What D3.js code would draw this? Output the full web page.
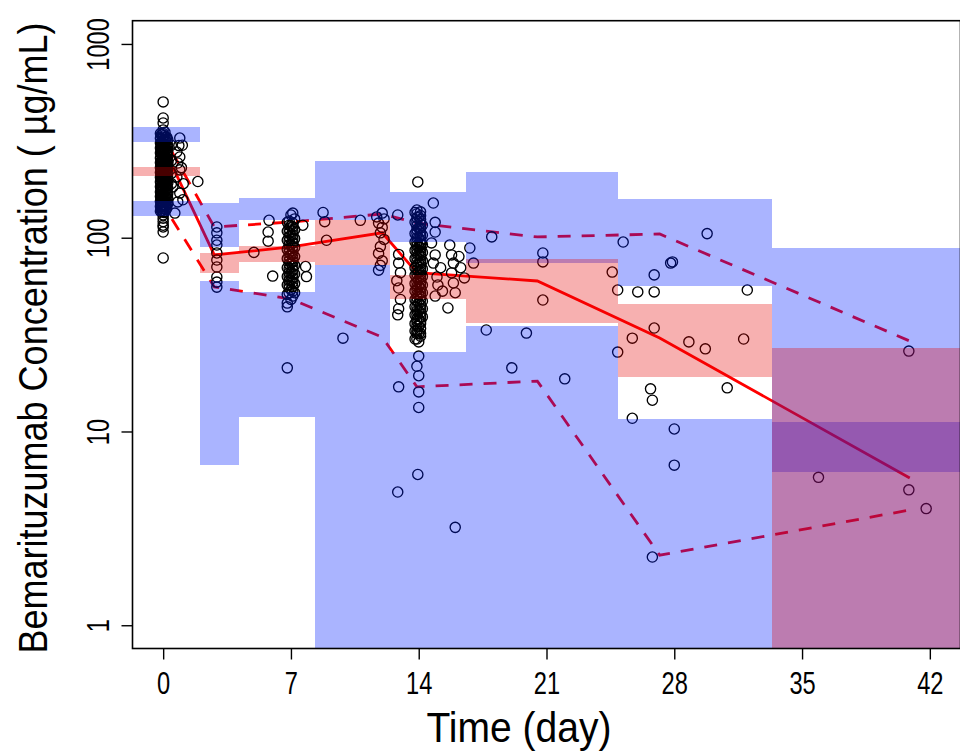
<!DOCTYPE html>
<html>
<head>
<meta charset="utf-8">
<script src="https://cdn.jsdelivr.net/npm/d3@7"></script>
<style>
  body { margin: 0; background: #fff; }
  svg { display: block; }
  text { font-family: "Liberation Sans", Arial, sans-serif; fill: #000; }
</style>
</head>
<body>
<svg id="chart" width="960" height="752"></svg>
<script>
// observed concentrations (time in days, conc in ug/mL)
var obsTime = [
  0,0,0,0,0,0,0,0,0,0,0,0,0,0,0,0,0,0,0,0,0,0,0,0,0,0,0,0,0,0,0,0,0,0,0,0,0,
  0.1,0.1,0.1,0.1,0.1,0.1,0.1,0.1,0.1,0.1,0.1,0.1,0.1,0.1,0.1,0.1,
  -0.1,-0.1,-0.1,-0.1,-0.1,-0.1,-0.1,-0.1,-0.1,-0.1,-0.1,-0.1,-0.1,-0.1,-0.1,
  0.2,0.2,0.2,0.2,0.2,0.2,0.2,0.2,0.2,0.2,0.2,0.2,0.2,
  0.45,0.45,0.45,0.45,
  0.91,0.86,0.75,0.91,0.8,0.91,0.75,0.53,0.91,0.8,1.08,0.64,1.9,1.05,1.0,1.1,
  2.94,2.94,2.94,2.94,2.94,2.94,2.94,2.94,2.94,2.94,
  4.97,5.8,5.75,5.75,6.0,
  6.8,6.8,6.8,6.8,6.8,6.8,6.8,6.8,6.8,6.8,6.8,
  7.0,7.0,7.0,7.0,7.0,7.0,7.0,7.0,7.0,7.0,
  7.2,7.2,7.2,7.2,7.2,7.2,7.2,7.2,7.2,
  7.1,7.65,7.8,7.85,6.8,
  8.76,8.85,8.95,10.8,11.7,11.8,11.9,11.8,11.8,12.0,12.1,12.0,12.1,11.9,12.0,11.9,9.85,
  12.85,12.9,12.9,13.0,12.8,12.9,13.0,12.9,12.85,12.9,12.85,
  13.8,13.8,13.8,13.8,13.8,13.8,13.8,13.8,13.8,13.8,13.8,13.8,13.8,13.8,13.8,13.8,
  14.0,14.0,14.0,14.0,14.0,14.0,14.0,14.0,14.0,14.0,14.0,14.0,14.0,14.0,14.0,14.0,
  14.2,14.2,14.2,14.2,14.2,14.2,14.2,14.2,14.2,14.2,14.2,14.2,
  13.95,14.0,13.9,14.0,14.0,14.0,13.95,
  14.8,14.9,14.9,14.7,14.9,14.8,15.0,15.05,15.7,15.8,15.9,15.8,15.9,15.6,16.8,17.0,
  17.7,18.0,19.9,20.8,20.8,20.8,19.1,22.0,16.0,16.2,16.3,15.2,15.3,14.9,16.0,16.5,
  25.2,24.6,24.9,26.0,26.9,26.9,27.9,27.8,29.8,32.0,24.9,25.7,26.9,28.8,29.7,31.8,
  26.7,26.8,25.7,30.9,28.0,28.0,26.8,35.9,40.85,40.85,41.8
];
var obsConc = [
  502,415,391,360,345,330,318,305,295,285,275,265,255,245,237,228,220,212,205,198,190,183,176,170,164,158,152,147,141,136,131,126,121,116,113.6,107,78.6,
  350,322,300,280,262,246,232,218,206,194,183,173,163,154,145,137,
  340,310,290,270,250,235,222,210,200,186,175,165,155,146,138,
  330,300,270,255,240,225,215,195,180,168,160,150,142,
  300,250,215,190,
  327,299,277,261,243,224,206,183,170,153,157,134,195,300,230,190,
  113.6,106,97,91.7,83.4,76.7,70.6,62.7,59,55.6,
  84,123,107,96,63.4,
  120,108,97,87,78,70,63,57,51,46,44,
  131,115,103,92,82,74,66,60,54,48,
  125,110,99,89,80,72,65,58,52,
  134,116,71,63,21.3,
  135,121,97,123,128,119,106,83,68,134,125,113,98,90,76,72,30.3,
  131,82,74,66,60,55,48,43,40,17,4.87,
  135,120,105,95,86,78,70,64,58,53,48,44,40,36,33,30,
  128,112,100,90,82,74,67,61,56,51,46,42,38,35,32,29,
  116,103,92,84,76,69,63,57,52,47,43,39,
  194,24.5,21.7,19.4,16,13.3,6,
  151,120,107,94,81.5,74,62.7,57,91.7,81.5,74,65.8,58.4,43.4,88.5,74,
  33.4,101,32.2,83.4,75,47.7,21.3,18.7,3.2,80,70,70,53,50,52,62,
  95,66.5,53.7,52.5,52.5,64.3,75,74,105,53.7,25.7,30.3,34.2,29,26.7,30,
  16.6,14.5,11.7,16.8,10.3,6.7,2.25,5.8,26,5.0,4.0
];

// heavily overlapping samples at the main visits (one time, many concentrations)
var denseTime = [-0.15, -0.05, 0.05, 0.15, 0.25, 6.9, 7.1, 13.9, 14.1];
var denseConc = [
  [345,326,308,290,274,258,244,230,217,205,194,183,172,163,154,145,137],
  [340,324,309,295,281,268,256,244,233,222,212,202,193,184,175,167,159,152,145,138],
  [336,320,305,291,277,264,252,240,229,218,208,198,189,180,172,164,156,149,142,135],
  [330,315,300,286,272,259,247,236,225,214,204,195,186,177,169,161,153,146,140],
  [320,298,280,262,246,231,217,204,191,180,169,159,150],
  [122,116,111,106,101,96,92,88,84,80,76,73,69,66,63,60,57,55,52],
  [119,114,108,103,99,94,90,86,82,78,75,71,68,65,62,59,56,53,50],
  [139,133,127,121,115,110,105,100,95,91,87,83,79,75,72,68,65,62,59,56,54,51,49,47,44,42,40,38,37,35,33,32,30],
  [136,130,124,118,112,107,102,97,93,89,85,81,77,74,70,67,64,61,58,55,52,50,48,45,43,41,39,37,36,34,32,31]
];

// time bins
var binStart = [-2, 2.01, 4.15, 8.31, 12.42, 16.58, 24.91, 33.33];
var binEnd   = [2.01, 4.15, 8.31, 12.42, 16.58, 24.91, 33.33, 46];
var binTime  = [0.48, 2.8, 7.0, 12.0, 13.9, 20.5, 27.2, 40.9];

// observed percentiles per bin
var obsP95 = [277, 113.6, 120.5, 132.6, 119, 100.9, 104.5, 29.3];
var obsMed = [237, 81.5, 89.6, 106, 66, 59.8, 30.4, 5.75];
var obsP05 = [125, 55.7, 48.3, 30.7, 17, 18.2, 2.3, 3.93];

// simulated confidence intervals per bin
var ciUpLo  = [313, 89.5, 123, 124, 95.4, 73.8, 56.5, 6.2];
var ciUpHi  = [374, 151, 161, 250, 172, 219, 158, 88.2];
var ciMedLo = [209, 65.8, 75.2, 72.3, 48.3, 36.4, 19.2, 0.1];
var ciMedHi = [233, 83.4, 91, 123, 64.2, 77.4, 45.5, 27.1];
var ciLowLo = [130, 6.7, 11.9, 0.1, 0.1, 0.1, 0.1, 0.1];
var ciLowHi = [155, 59.8, 52.6, 72.3, 25.8, 35, 11.6, 11.2];

var xTicks = [0, 7, 14, 21, 28, 35, 42];
var yTicks = [1, 10, 100, 1000];

var pLeft = 132.5, pRight = 960.5, pTop = 20.7, pBottom = 648.5;

var x = d3.scaleLinear().domain([-1.68, 43.68]).range([pLeft, pRight]);
var y = d3.scaleLog().domain([Math.pow(10, -0.12), Math.pow(10, 3.12)]).range([pBottom, pTop]);

var svg = d3.select('#chart');

svg.append('clipPath').attr('id', 'plotclip')
  .append('rect')
  .attr('x', pLeft).attr('y', pTop)
  .attr('width', pRight - pLeft).attr('height', pBottom - pTop);

var plot = svg.append('g').attr('clip-path', 'url(#plotclip)');

// percentile lines (drawn first, the bands are laid over them)
var line = d3.line()
  .x(function(d) { return x(d[0]); })
  .y(function(d) { return y(d[1]); });

function pts(vals) {
  return binTime.map(function(t, i) { return [t, vals[i]]; });
}

plot.append('path').datum(pts(obsP95))
  .attr('d', line).attr('fill', 'none')
  .attr('stroke', '#ff0000').attr('stroke-width', 2.8)
  .attr('stroke-dasharray', '13,11');
plot.append('path').datum(pts(obsP05))
  .attr('d', line).attr('fill', 'none')
  .attr('stroke', '#ff0000').attr('stroke-width', 2.8)
  .attr('stroke-dasharray', '13,11');
plot.append('path').datum(pts(obsMed))
  .attr('d', line).attr('fill', 'none')
  .attr('stroke', '#ff0000').attr('stroke-width', 2.8);

// observations
var obs = obsTime.map(function(t, i) { return [t, obsConc[i]]; });
denseTime.forEach(function(t, j) {
  denseConc[j].forEach(function(c) { obs.push([t, c]); });
});

plot.selectAll('circle.obs')
  .data(obs)
  .enter()
  .append('circle')
  .attr('class', 'obs')
  .attr('cx', function(d) { return x(d[0]); })
  .attr('cy', function(d) { return y(d[1]); })
  .attr('r', 5.1)
  .attr('fill', 'none')
  .attr('stroke', '#000')
  .attr('stroke-width', 1.35);

// CI bands
function band(lo, hi, color) {
  plot.selectAll(null)
    .data(binStart)
    .enter()
    .append('rect')
    .attr('x', function(d, i) { return x(binStart[i]); })
    .attr('width', function(d, i) { return x(binEnd[i]) - x(binStart[i]); })
    .attr('y', function(d, i) { return y(hi[i]); })
    .attr('height', function(d, i) { return y(lo[i]) - y(hi[i]); })
    .attr('fill', color)
    .attr('shape-rendering', 'crispEdges');
}
band(ciUpLo, ciUpHi, 'rgba(0,30,255,0.333)');
band(ciLowLo, ciLowHi, 'rgba(0,30,255,0.333)');
band(ciMedLo, ciMedHi, 'rgba(230,0,0,0.31)');

// axes
var xAxis = d3.axisBottom(x).tickValues(xTicks).tickSize(11).tickPadding(4).tickSizeOuter(0);
var yAxis = d3.axisLeft(y).tickValues(yTicks).tickSize(11).tickSizeOuter(0)
  .tickFormat(d3.format('d'));

var gx = svg.append('g').attr('transform', 'translate(0,' + pBottom + ')').call(xAxis);
gx.select('.domain').remove();
gx.selectAll('line').attr('stroke', '#000').attr('stroke-width', 1.4);
gx.selectAll('text')
  .attr('y', 46).attr('dy', 0)
  .attr('font-size', 32)
  .attr('transform', 'scale(0.74,1)');

var gy = svg.append('g').attr('transform', 'translate(' + pLeft + ',0)').call(yAxis);
gy.select('.domain').remove();
gy.selectAll('line').attr('stroke', '#000').attr('stroke-width', 1.4);
gy.selectAll('text')
  .attr('x', 0).attr('y', -24).attr('dy', 0)
  .attr('text-anchor', 'middle')
  .attr('font-size', 32)
  .attr('transform', 'rotate(-90) scale(0.74,1)');

// plot box
svg.append('rect')
  .attr('x', pLeft).attr('y', pTop)
  .attr('width', pRight - pLeft).attr('height', pBottom - pTop)
  .attr('fill', 'none').attr('stroke', '#000').attr('stroke-width', 1.6);

// axis titles
svg.append('text')
  .attr('transform', 'translate(519,742) scale(0.93,1)')
  .attr('text-anchor', 'middle')
  .attr('font-size', 42)
  .text('Time (day)');

svg.append('text')
  .attr('transform', 'translate(47,338) rotate(-90) scale(0.9,1)')
  .attr('text-anchor', 'middle')
  .attr('font-size', 40)
  .text('Bemarituzumab Concentration ( \u00b5g/mL)');
</script>
</body>
</html>
